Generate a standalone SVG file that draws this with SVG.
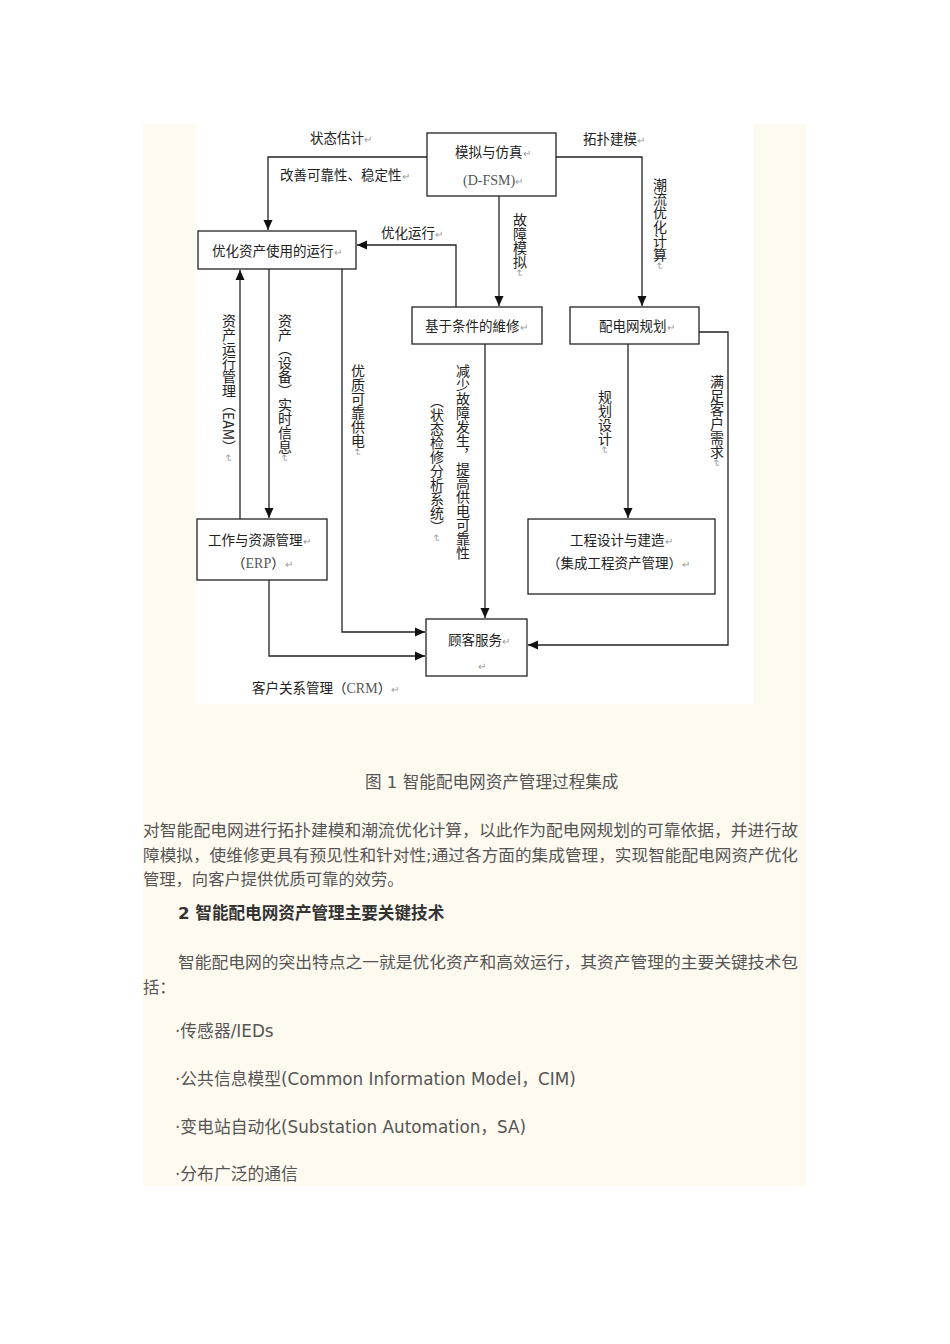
<svg xmlns="http://www.w3.org/2000/svg" width="950" height="1344" viewBox="0 0 950 1344">
<style>
.box{fill:#fff;stroke:#222;stroke-width:1.3}
.t{font-family:"Noto Sans CJK SC","Noto Sans",sans-serif;font-size:13.5px;fill:#222}
.s{font-family:"Liberation Serif","Noto Sans CJK SC",serif;font-size:14px;fill:#555}
.r{fill:#999;font-size:10px}
.v{font-family:"Noto Sans CJK SC",sans-serif;font-size:14px;fill:#222;writing-mode:vertical-rl}
.c{fill:none;stroke:#222;stroke-width:1.3}
.p{font-family:"DejaVu Sans","Noto Sans CJK SC",sans-serif;font-size:16.3px;fill:#555}
.b{font-size:16.8px}
</style>
<defs>
<marker id="ah" markerUnits="userSpaceOnUse" markerWidth="10" markerHeight="10" refX="10" refY="5" orient="auto">
<path d="M0,0.5 L10,5 L0,9.5 z" fill="#111"/>
</marker>
</defs>
<rect x="143" y="124" width="663" height="1062" fill="#fefaf0"/>
<rect x="196" y="124" width="558" height="580" fill="#fff"/>

<g id="connectors">
<path class="c" d="M427,157 H268 V230" marker-end="url(#ah)"/>
<path class="c" d="M556,157 H642 V306" marker-end="url(#ah)"/>
<path class="c" d="M499,196 V306" marker-end="url(#ah)"/>
<path class="c" d="M456,307 V245 H357" marker-end="url(#ah)"/>
<path class="c" d="M240,519 V270" marker-end="url(#ah)"/>
<path class="c" d="M269,269 V518" marker-end="url(#ah)"/>
<path class="c" d="M342,269 V632 H425" marker-end="url(#ah)"/>
<path class="c" d="M269,580 V656 H425" marker-end="url(#ah)"/>
<path class="c" d="M485,344 V618" marker-end="url(#ah)"/>
<path class="c" d="M628,344 V518" marker-end="url(#ah)"/>
<path class="c" d="M699,332 H728 V645 H528" marker-end="url(#ah)"/>
<text class="t" x="310" y="143">状态估计<tspan class="r">↵</tspan></text>
<text class="t" x="280" y="180">改善可靠性、稳定性<tspan class="r">↵</tspan></text>
<text class="t" x="381" y="238">优化运行<tspan class="r">↵</tspan></text>
<text class="t" x="583" y="144">拓扑建模<tspan class="r">↵</tspan></text>
<text class="t" x="252" y="693">客户关系管理（<tspan class="s">CRM</tspan>）<tspan class="r">↵</tspan></text>
<text class="v" x="660" y="178">潮流优化计算<tspan class="r">↵</tspan></text>
<text class="v" x="520" y="213">故障模拟<tspan class="r">↵</tspan></text>
<text class="v" x="229" y="314">资产运行管理（EAM）<tspan class="r">↵</tspan></text>
<text class="v" x="285" y="314">资产（设备）实时信息<tspan class="r">↵</tspan></text>
<text class="v" x="358" y="364">优质可靠供电<tspan class="r">↵</tspan></text>
<text class="v" x="463" y="364">减少故障发生，提高供电可靠性</text>
<text class="v" x="437" y="394">（状态检修分析系统）<tspan class="r">↵</tspan></text>
<text class="v" x="605" y="390">规划设计<tspan class="r">↵</tspan></text>
<text class="v" x="717" y="375">满足客户需求<tspan class="r">↵</tspan></text>
</g>

<g id="n-sim">
<rect class="box" x="427" y="133" width="129" height="63"/>
<text class="t" x="455" y="157">模拟与仿真<tspan class="r">↵</tspan></text>
<text class="s" x="463" y="185">(D-FSM)<tspan class="r">↵</tspan></text>
</g>
<g id="n-opt">
<rect class="box" x="198" y="231" width="158" height="38"/>
<text class="t" x="212" y="256">优化资产使用的运行<tspan class="r">↵</tspan></text>
</g>
<g id="n-cbm">
<rect class="box" x="412" y="307" width="130" height="37"/>
<text class="t" x="425" y="331">基于条件的維修<tspan class="r">↵</tspan></text>
</g>
<g id="n-plan">
<rect class="box" x="570" y="307" width="129" height="37"/>
<text class="t" x="599" y="331">配电网规划<tspan class="r">↵</tspan></text>
</g>
<g id="n-erp">
<rect class="box" x="197" y="519" width="130" height="61"/>
<text class="t" x="208" y="545">工作与资源管理<tspan class="r">↵</tspan></text>
<text class="t" x="232" y="568">（<tspan class="s">ERP</tspan>）<tspan class="r">↵</tspan></text>
</g>
<g id="n-eng">
<rect class="box" x="528" y="519" width="187" height="75"/>
<text class="t" x="570" y="545">工程设计与建造<tspan class="r">↵</tspan></text>
<text class="t" x="547" y="568">（集成工程资产管理）<tspan class="r">↵</tspan></text>
</g>
<g id="n-cs">
<rect class="box" x="426" y="619" width="101" height="57"/>
<text class="t" x="448" y="645">顾客服务<tspan class="r">↵</tspan></text>
<text class="t" x="478" y="670"><tspan class="r">↵</tspan></text>
</g>

<g id="body">
<text class="p" x="365" y="788" style="font-size:16.6px">图 1 智能配电网资产管理过程集成</text>
<text class="p" x="143" y="836" textLength="655" lengthAdjust="spacingAndGlyphs">对智能配电网进行拓扑建模和潮流优化计算，以此作为配电网规划的可靠依据，并进行故</text>
<text class="p" x="143" y="861" textLength="655" lengthAdjust="spacingAndGlyphs">障模拟，使维修更具有预见性和针对性;通过各方面的集成管理，实现智能配电网资产优化</text>
<text class="p" x="143" y="885">管理，向客户提供优质可靠的效劳。</text>
<text class="p" x="178" y="919" style="font-weight:bold;fill:#333;font-size:16.6px">2 智能配电网资产管理主要关键技术</text>
<text class="p" x="178" y="968" textLength="620" lengthAdjust="spacingAndGlyphs">智能配电网的突出特点之一就是优化资产和高效运行，其资产管理的主要关键技术包</text>
<text class="p" x="143" y="993">括：</text>
<text class="p b" x="175" y="1037">·传感器/IEDs</text>
<text class="p b" x="175" y="1085">·公共信息模型(Common Information Model，CIM)</text>
<text class="p b" x="175" y="1133">·变电站自动化(Substation Automation，SA)</text>
<text class="p b" x="175" y="1180">·分布广泛的通信</text>
</g>
</svg>
